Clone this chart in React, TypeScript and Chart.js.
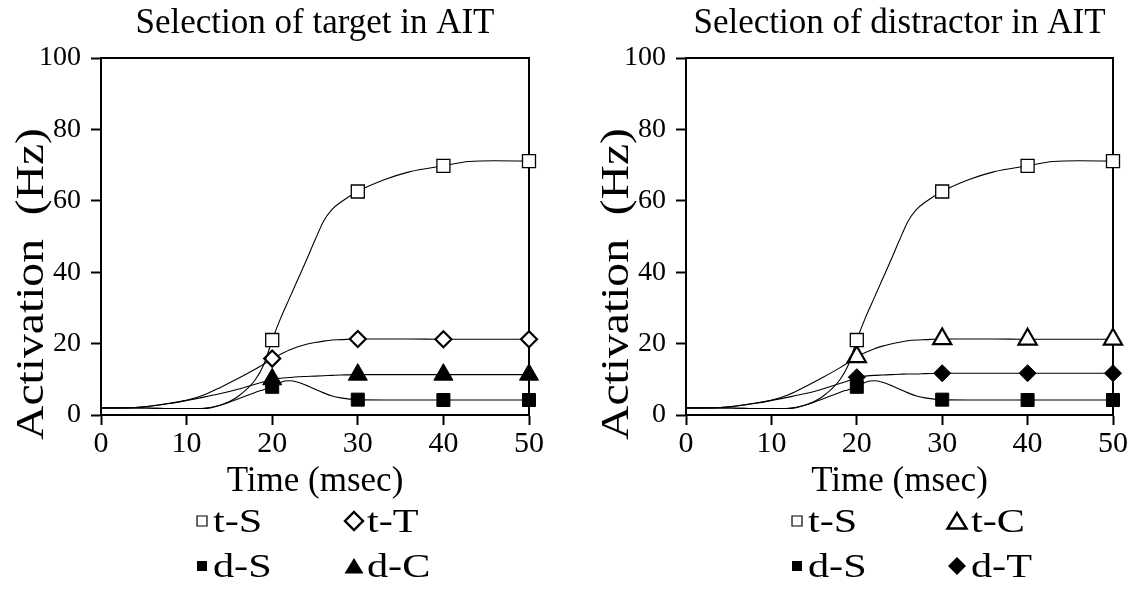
import React, { useEffect, useRef } from 'react';
import { Chart, registerables } from 'chart.js';

Chart.register(...registerables);

const FONT = "'Liberation Serif', 'Times New Roman', Times, serif";

// ---- data ----
const timeMs = [0, 2, 4, 6, 8, 10, 12, 14, 16, 18, 19, 20, 21, 22, 23, 24, 25, 26, 27, 28, 30, 33, 36, 40, 43, 46, 50];
const markerTimes = [20, 30, 40, 50];
const yLabelValues = [0, 20, 40, 60, 80, 100];

// Left panel: selection of target
const targetTS = [2, 2, 2, 1.9, 1.8, 1.8, 1.8, 2.8, 5.2, 9.8, 14, 21, 27.2, 32.6, 38, 43.4, 49, 54.3, 57.6, 59.6, 62.6, 65.8, 68.1, 69.8, 71, 71.2, 71.1];
const targetTT = [2, 2, 2.1, 2.5, 3.2, 4.1, 5.6, 7.8, 10.2, 12.8, 14.2, 15.8, 17, 18.2, 19.1, 19.8, 20.3, 20.7, 21, 21.1, 21.3, 21.3, 21.3, 21.2, 21.2, 21.2, 21.2];
const targetDS = [2, 2, 2, 1.9, 1.8, 1.8, 1.9, 2.8, 4.5, 6.3, 7.1, 7.9, 9.2, 9.6, 9.2, 8.3, 7.2, 6.2, 5.3, 4.8, 4.3, 4.2, 4.2, 4.2, 4.2, 4.2, 4.2];
const targetDC = [2, 2, 2.1, 2.6, 3.3, 4.1, 5, 6, 7.2, 8.6, 9.3, 10, 10.3, 10.5, 10.7, 10.8, 10.9, 11, 11.1, 11.2, 11.3, 11.3, 11.3, 11.3, 11.3, 11.3, 11.3];

// Right panel: selection of distractor
const distrTS = [2, 2, 2, 1.9, 1.8, 1.8, 1.8, 2.8, 5.2, 9.8, 14, 21, 27.2, 32.6, 38, 43.4, 49, 54.3, 57.6, 59.6, 62.6, 65.8, 68.1, 69.8, 71, 71.2, 71.1];
const distrTC = [2, 2, 2.1, 2.5, 3.2, 4.1, 5.7, 8, 10.5, 13.2, 14.7, 16.3, 17.5, 18.5, 19.3, 19.9, 20.4, 20.8, 21, 21.1, 21.3, 21.3, 21.3, 21.2, 21.2, 21.2, 21.2];
const distrDS = [2, 2, 2, 1.9, 1.8, 1.8, 1.9, 2.8, 4.5, 6.3, 7.1, 7.9, 9.2, 9.6, 9.2, 8.3, 7.2, 6.2, 5.3, 4.8, 4.3, 4.2, 4.2, 4.2, 4.2, 4.2, 4.2];
const distrDT = [2, 2, 2.1, 2.6, 3.3, 4.1, 5, 6, 7.3, 8.8, 9.6, 10.6, 10.9, 11.1, 11.2, 11.3, 11.4, 11.5, 11.5, 11.6, 11.7, 11.7, 11.7, 11.7, 11.7, 11.7, 11.7];

const titleLeft = 'Selection of target in AIT';
const titleRight = 'Selection of distractor in AIT';
const xTitle = 'Time (msec)';
const yTitle = 'Activation  (Hz)';

type Marker = { style: 'rect' | 'rectRot' | 'triangle'; filled: boolean; radius: number; bw: number };
type Series = { label: string; values: number[]; marker: Marker };

const openSquare: Marker = { style: 'rect', filled: false, radius: 9.2, bw: 1.3 };
const fillSquare: Marker = { style: 'rect', filled: true, radius: 9.2, bw: 1 };
const openDiamond: Marker = { style: 'rectRot', filled: false, radius: 8, bw: 2.2 };
const fillDiamond: Marker = { style: 'rectRot', filled: true, radius: 8.5, bw: 1 };
const openTriangle: Marker = { style: 'triangle', filled: false, radius: 10.5, bw: 2.2 };
const fillTriangle: Marker = { style: 'triangle', filled: true, radius: 11, bw: 1 };

const leftSeries: Series[] = [
  { label: 't-S', values: targetTS, marker: openSquare },
  { label: 't-T', values: targetTT, marker: openDiamond },
  { label: 'd-S', values: targetDS, marker: fillSquare },
  { label: 'd-C', values: targetDC, marker: fillTriangle },
];
const rightSeries: Series[] = [
  { label: 't-S', values: distrTS, marker: openSquare },
  { label: 't-C', values: distrTC, marker: openTriangle },
  { label: 'd-S', values: distrDS, marker: fillSquare },
  { label: 'd-T', values: distrDT, marker: fillDiamond },
];

// legend marker shapes (smaller than plot markers)
function drawLegendMarker(ctx: CanvasRenderingContext2D, m: Marker, x: number, y: number) {
  ctx.save();
  ctx.beginPath();
  if (m.style === 'rect') {
    ctx.rect(x - 5, y - 5, 10, 10);
  } else if (m.style === 'rectRot') {
    const r = 9;
    ctx.moveTo(x, y - r);
    ctx.lineTo(x + r, y);
    ctx.lineTo(x, y + r);
    ctx.lineTo(x - r, y);
    ctx.closePath();
  } else {
    ctx.moveTo(x, y - 8);
    ctx.lineTo(x + 9.5, y + 7.5);
    ctx.lineTo(x - 9.5, y + 7.5);
    ctx.closePath();
  }
  if (m.filled) {
    ctx.fillStyle = '#000';
    ctx.fill();
  } else {
    ctx.fillStyle = '#fff';
    ctx.fill();
    ctx.lineWidth = m.style === 'rect' ? 1.2 : 2.4;
    ctx.strokeStyle = '#000';
    ctx.stroke();
  }
  ctx.restore();
}

const decorPlugin = {
  id: 'panelDecor',
  beforeDatasetsDraw(chart: any) {
    const { ctx, chartArea: a } = chart;
    ctx.save();
    ctx.strokeStyle = '#000';
    ctx.lineWidth = 2;
    ctx.beginPath();
    ctx.moveTo(a.left, a.top);
    ctx.lineTo(a.right, a.top);
    ctx.lineTo(a.right, a.bottom);
    ctx.stroke();
    ctx.restore();
  },
  afterDraw(chart: any, _args: any, opts: any) {
    const { ctx, chartArea: a } = chart;
    const cx = (a.left + a.right) / 2;
    ctx.save();
    ctx.fillStyle = '#000';
    // title
    ctx.font = `35px ${FONT}`;
    ctx.textAlign = 'center';
    ctx.textBaseline = 'alphabetic';
    ctx.fillText(opts.title, cx, 33);
    // x title
    ctx.font = `35px ${FONT}`;
    ctx.fillText(opts.xTitle, cx, 491);
    // y title (rotated, slightly stretched along its baseline)
    ctx.save();
    ctx.translate(opts.yTitleX, 284);
    ctx.rotate(-Math.PI / 2);
    ctx.scale(1.19, 1);
    ctx.font = `40px ${FONT}`;
    ctx.fillText(opts.yTitle, 0, 0);
    ctx.restore();
    // legend 2 x 2
    const series: Series[] = opts.series;
    series.forEach((s, i) => {
      const col = i % 2;
      const row = Math.floor(i / 2);
      const mx = opts.legendX[col];
      const my = opts.legendY[row];
      drawLegendMarker(ctx, s.marker, mx, my);
      ctx.save();
      ctx.translate(mx + opts.legendGap[col], my + 11);
      ctx.scale(1.28, 1);
      ctx.font = `33px ${FONT}`;
      ctx.textAlign = 'left';
      ctx.fillText(s.label, 0, 0);
      ctx.restore();
    });
    ctx.restore();
  },
};

type PanelProps = {
  left: number;
  width: number;
  axisWidth: number;
  padRight: number;
  title: string;
  series: Series[];
  legendX: number[];
  legendGap: number[];
  yTitleX: number;
};

function Panel(p: PanelProps) {
  const ref = useRef<HTMLCanvasElement | null>(null);
  useEffect(() => {
    if (!ref.current) return;
    const datasets = p.series.map((s) => ({
      label: s.label,
      data: timeMs.map((t, i) => ({ x: t, y: s.values[i] })),
      borderColor: '#000',
      borderWidth: 1.1,
      tension: 0.4,
      cubicInterpolationMode: 'monotone' as const,
      pointStyle: s.marker.style,
      pointRadius: (c: any) => (markerTimes.includes(c.raw?.x) ? s.marker.radius : 0),
      pointHoverRadius: (c: any) => (markerTimes.includes(c.raw?.x) ? s.marker.radius : 0),
      pointBackgroundColor: s.marker.filled ? '#000' : '#fff',
      pointBorderColor: '#000',
      pointBorderWidth: s.marker.bw,
      clip: false as const,
      fill: false,
    }));
    const chart = new Chart(ref.current, {
      type: 'line',
      data: { datasets },
      plugins: [decorPlugin],
      options: {
        animation: false,
        responsive: false,
        devicePixelRatio: 1,
        events: [],
        layout: { padding: { left: 0, top: 58, right: p.padRight, bottom: 0 } },
        scales: {
          x: {
            type: 'linear',
            min: 0,
            max: 50,
            ticks: { stepSize: 10, color: '#000', font: { family: FONT, size: 30 }, padding: 1, maxRotation: 0 },
            grid: { drawOnChartArea: false, drawTicks: true, tickLength: 10, tickWidth: 2, color: '#000' },
            border: { display: true, color: '#000', width: 2 },
            afterFit: (s: any) => { s.height = 593 - 415; },
          },
          y: {
            type: 'linear',
            min: 0,
            max: 100,
            ticks: {
              stepSize: 10,
              color: '#000',
              font: { family: FONT, size: 28 },
              padding: 10,
              callback: (v: any) => (yLabelValues.includes(Number(v)) ? String(v) : ''),
            },
            grid: { drawOnChartArea: false, drawTicks: true, tickLength: 10, tickWidth: 2, color: '#000' },
            border: { display: true, color: '#000', width: 2 },
            afterFit: (s: any) => { s.width = p.axisWidth; },
          },
        },
        plugins: {
          legend: { display: false },
          title: { display: false },
          tooltip: { enabled: false },
          panelDecor: {
            title: p.title,
            xTitle,
            yTitle,
            series: p.series,
            legendX: p.legendX,
            legendY: [521, 566],
            legendGap: p.legendGap,
            yTitleX: p.yTitleX,
          },
        } as any,
      },
    });
    return () => chart.destroy();
  }, []);
  return (
    <canvas
      ref={ref}
      width={p.width}
      height={593}
      style={{ position: 'absolute', left: p.left, top: 0, width: p.width, height: 593 }}
    />
  );
}

export default function App() {
  return (
    <div style={{ position: 'absolute', left: 0, top: 0, width: 1134, height: 593, overflow: 'hidden', background: '#fff' }}>
      <Panel
        left={0}
        width={567}
        axisWidth={101}
        padRight={38}
        title={titleLeft}
        series={leftSeries}
        legendX={[202, 354]}
        legendGap={[11, 13]}
        yTitleX={43}
      />
      <Panel
        left={567}
        width={567}
        axisWidth={119}
        padRight={21}
        title={titleRight}
        series={rightSeries}
        legendX={[230, 390]}
        legendGap={[11, 14]}
        yTitleX={61}
      />
    </div>
  );
}
